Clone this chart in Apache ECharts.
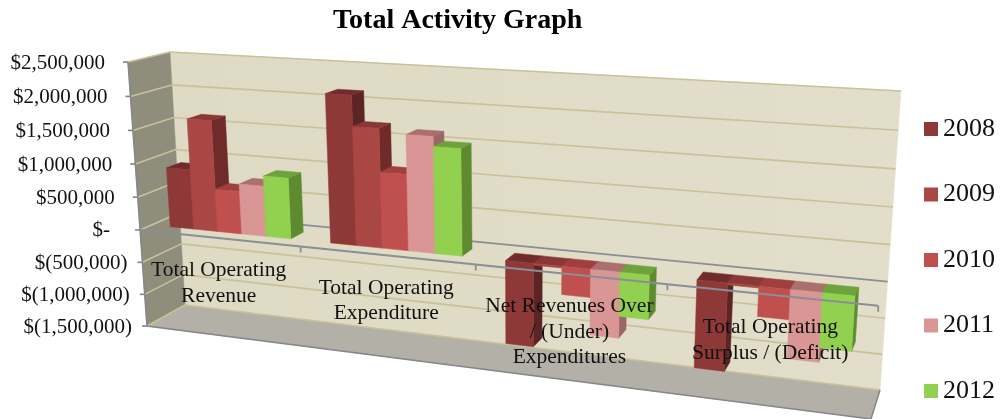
<!DOCTYPE html>
<html>
<head>
<meta charset="utf-8">
<title>Total Activity Graph</title>
<style>
  html, body { margin: 0; padding: 0; background: #fff; }
  #chart-container { width: 1001px; height: 419px; }
</style>
<script src="https://cdn.jsdelivr.net/npm/echarts@6/dist/echarts.min.js"></script>
</head>
<body>
<div id="chart-container"></div>
<script>
const categories = [
  "Total Operating\nRevenue",
  "Total Operating\nExpenditure",
  "Net Revenues Over\n/ (Under)\nExpenditures",
  "Total Operating\nSurplus / (Deficit)"
];
const years = ["2008", "2009", "2010", "2011", "2012"];
const values2008 = [900000, 2160000, -1200000, -1220000];
const values2009 = [1660000, 1720000, -25000, -25000];
const values2010 = [640000, 1100000, -400000, -410000];
const values2011 = [750000, 1660000, -930000, -940000];
const values2012 = [900000, 1520000, -620000, -740000];
const tickValues = [2500000, 2000000, 1500000, 1000000, 500000, 0, -500000, -1000000, -1500000];
const tickLabels = ["$2,500,000", "$2,000,000", "$1,500,000", "$1,000,000", "$500,000", "$-", "$(500,000)", "$(1,000,000)", "$(1,500,000)"];

// front, top, side
const barColors = [
  ["#8E3838", "#702C2C", "#5C2424"],
  ["#AA4643", "#8A3836", "#6E2B29"],
  ["#C0504D", "#A03F3D", "#803E3C"],
  ["#D99694", "#AB6F6D", "#9A6666"],
  ["#92D050", "#6FA23D", "#5E8A30"]
];
const FONT = "'Liberation Serif', 'Times New Roman', serif";

const GRID = { left: 100, top: 50, width: 800, height: 300 };

// the 3d box: two planes, each TL, TR, BR, BL
const frontPlane = [[128, 62], [891, 106], [871, 419], [147, 326]];
const backPlane = [[170, 52], [901, 91], [880, 390], [185, 305]];

function makeHomography(q) {
  const dx1 = q[1][0] - q[2][0], dx2 = q[3][0] - q[2][0], sx = q[0][0] - q[1][0] + q[2][0] - q[3][0];
  const dy1 = q[1][1] - q[2][1], dy2 = q[3][1] - q[2][1], sy = q[0][1] - q[1][1] + q[2][1] - q[3][1];
  const den = dx1 * dy2 - dx2 * dy1;
  const g = (sx * dy2 - dx2 * sy) / den, h = (dx1 * sy - sx * dy1) / den;
  const a = q[1][0] - q[0][0] + g * q[1][0], b = q[3][0] - q[0][0] + h * q[3][0], c = q[0][0];
  const d = q[1][1] - q[0][1] + g * q[1][1], e = q[3][1] - q[0][1] + h * q[3][1], f = q[0][1];
  return (u, v) => {
    const w = g * u + h * v + 1;
    return [(a * u + b * v + c) / w, (d * u + e * v + f) / w];
  };
}
const projFront = makeHomography(frontPlane);
const projBack = makeHomography(backPlane);

// px/py are grid pixels from api.coord, depth 0 = front, 1 = back wall
function project(px, py, depth) {
  const u = (px - GRID.left) / GRID.width, v = (py - GRID.top) / GRID.height;
  const p0 = projFront(u, v), p1 = projBack(u, v);
  return [p0[0] + (p1[0] - p0[0]) * depth, p0[1] + (p1[1] - p0[1]) * depth];
}

function poly(points, fill, stroke, lineWidth) {
  return {
    type: "polygon",
    shape: { points: points },
    style: { fill: fill, stroke: stroke || fill, lineWidth: lineWidth === undefined ? 0.5 : lineWidth }
  };
}
function line(points, color, width) {
  return {
    type: "polyline",
    shape: { points: points },
    style: { fill: null, stroke: color, lineWidth: width }
  };
}

const BAR_BAND = 0.76;
const BAR_D0 = 0.3, BAR_D1 = 0.66;

function barSeries(name, values, s) {
  return {
    type: "custom",
    name: name,
    z: 5 + s,
    clip: false,
    itemStyle: { color: barColors[s][0] },
    data: values.map((v, i) => [i, v]),
    renderItem: (params, api) => {
      const band = api.size([1, 0])[0];
      const w = band * BAR_BAND / 5;
      const c0 = api.coord([api.value(0), 0]);
      const c1 = api.coord([api.value(0), api.value(1)]);
      const x0 = c0[0] + (s - 2.5) * w, x1 = x0 + w;
      const yTop = Math.min(c0[1], c1[1]), yBot = Math.max(c0[1], c1[1]);
      const P = (x, y, d) => project(x, y, d);
      const col = barColors[s];
      return {
        type: "group",
        children: [
          poly([P(x1, yTop, BAR_D0), P(x1, yTop, BAR_D1), P(x1, yBot, BAR_D1), P(x1, yBot, BAR_D0)], col[2]),
          poly([P(x0, yTop, BAR_D0), P(x0, yTop, BAR_D1), P(x1, yTop, BAR_D1), P(x1, yTop, BAR_D0)], col[1]),
          poly([P(x0, yTop, BAR_D0), P(x1, yTop, BAR_D0), P(x1, yBot, BAR_D0), P(x0, yBot, BAR_D0)], col[0])
        ]
      };
    }
  };
}

const wallSeries = {
  type: "custom",
  z: 1,
  clip: false,
  silent: true,
  data: [[0, 0]],
  renderItem: () => {
    const c = (u, v, d) => project(GRID.left + u * GRID.width, GRID.top + v * GRID.height, d);
    return {
      type: "group",
      children: [
        poly([c(0, 0, 1), c(1, 0, 1), c(1, 1, 1), c(0, 1, 1)], new echarts.graphic.LinearGradient(0, 0, 1, 0, [
          { offset: 0, color: "#DEDAC3" }, { offset: 1, color: "#E2DECA" }
        ])),
        poly([c(0, 0, 0), c(0, 0, 1), c(0, 1, 1), c(0, 1, 0)], "#8F8E7D"),
        poly([c(0, 1, 0), c(0, 1, 1), c(1, 1, 1), c(1, 1, 0)], "#B3B0A8")
      ]
    };
  }
};

const gridLineSeries = {
  type: "custom",
  z: 2,
  clip: false,
  silent: true,
  data: tickValues.map((t) => [0, t]),
  renderItem: (params, api) => {
    const y = api.coord([0, api.value(1)])[1];
    const xL = GRID.left, xR = GRID.left + GRID.width;
    const isZero = api.value(1) === 0;
    const f = project(xL, y, 0);
    return {
      type: "group",
      children: [
        line([project(xL, y, 0), project(xL, y, 1)], "#C9C19A", 1.6),
        line([project(xL, y, 1), project(xR, y, 1)], isZero ? "#8A8E96" : "#C9C19A", isZero ? 1.8 : 1.6),
        line([[f[0] - 5, f[1]], f], "#808488", 1.6)
      ]
    };
  }
};

const edgeSeries = {
  type: "custom",
  z: 3,
  clip: false,
  silent: true,
  data: [[0, 0]],
  renderItem: () => {
    const c = (u, v, d) => project(GRID.left + u * GRID.width, GRID.top + v * GRID.height, d);
    return {
      type: "group",
      children: [
        line([c(0, 0, 0), c(0, 1, 0), c(1, 1, 0), c(1, 1, 1)], "#85878A", 1.5)
      ]
    };
  }
};

const axisLineSeries = {
  type: "custom",
  z: 12,
  clip: false,
  silent: true,
  data: [0, 1, 2, 3, 4].map((i) => [i - 0.5, 0]),
  renderItem: (params, api) => {
    const pt = api.coord([0, 0]);
    const band = api.size([1, 0])[0];
    const x = GRID.left + params.dataIndex * band;
    const p = project(x, pt[1], 0);
    const kids = [];
    if (params.dataIndex > 0) kids.push(line([p, [p[0], p[1] + 6]], "#8A8E96", 1.8));
    if (params.dataIndex < 4) kids.push(line([p, project(x + band, pt[1], 0)], "#8A8E96", 2));
    return { type: "group", children: kids };
  }
};

const tickLabelSeries = {
  type: "custom",
  z: 20,
  clip: false,
  silent: true,
  data: tickValues.map((t) => [0, t]),
  renderItem: (params, api) => {
    const v = api.value(1);
    const y = api.coord([0, v])[1];
    const p = project(GRID.left, y, 0);
    const pad = v < 0 ? 15 : v === 0 ? 30 : 23;
    return {
      type: "text",
      style: {
        x: p[0] - pad, y: p[1] + 1,
        text: tickLabels[params.dataIndex],
        align: "right", verticalAlign: "middle",
        fontFamily: FONT, fontSize: 21, fill: "#111"
      }
    };
  }
};

const categoryLabelSeries = {
  type: "custom",
  z: 20,
  clip: false,
  silent: true,
  data: categories.map((c, i) => [i, 0]),
  renderItem: (params, api) => {
    const pt = api.coord([api.value(0), 0]);
    const p = project(pt[0], pt[1], 0);
    return {
      type: "text",
      style: {
        x: p[0], y: p[1] + 20,
        text: categories[params.dataIndex],
        align: "center", verticalAlign: "top",
        fontFamily: FONT, fontSize: 21.5, lineHeight: 25.5, fill: "#111"
      }
    };
  }
};

const dom = document.getElementById("chart-container");
const myChart = echarts.init(dom, null, { renderer: "canvas" });

myChart.setOption({
  animation: false,
  backgroundColor: "#fff",
  title: {
    text: "Total Activity Graph",
    left: 328,
    top: 2,
    textStyle: { fontFamily: FONT, fontSize: 28, fontWeight: "bold", color: "#000" }
  },
  legend: {
    data: years,
    orient: "vertical",
    left: 924,
    top: 116,
    padding: 0,
    itemWidth: 14,
    itemHeight: 14,
    itemGap: 39.5,
    icon: "rect",
    textStyle: { fontFamily: FONT, fontSize: 26, color: "#111" }
  },
  grid: GRID,
  xAxis: { type: "category", data: categories, show: false },
  yAxis: { type: "value", min: -1500000, max: 2500000, interval: 500000, show: false },
  series: [
    wallSeries,
    gridLineSeries,
    edgeSeries,
    barSeries(years[0], values2008, 0),
    barSeries(years[1], values2009, 1),
    barSeries(years[2], values2010, 2),
    barSeries(years[3], values2011, 3),
    barSeries(years[4], values2012, 4),
    axisLineSeries,
    tickLabelSeries,
    categoryLabelSeries
  ]
});

window.addEventListener("resize", myChart.resize);
</script>
</body>
</html>
